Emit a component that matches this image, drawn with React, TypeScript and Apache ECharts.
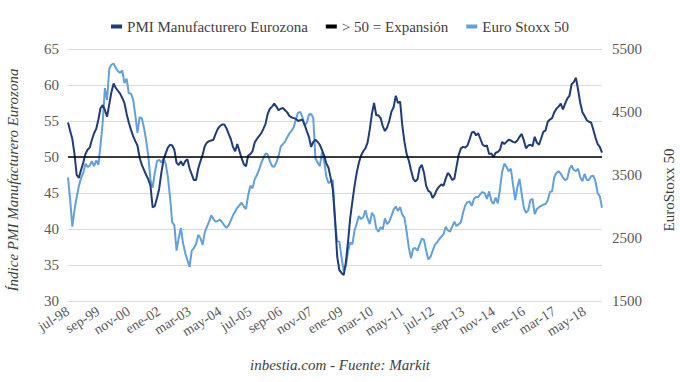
import React, { useEffect, useRef } from "react";
import * as echarts from "echarts";

// Monthly data, jul-98 .. ene-19
const START_YEAR = 1998;
const START_MONTH = 6; // 0-based: julio
const MONTH_ABBR = ["ene", "feb", "mar", "abr", "may", "jun", "jul", "ago", "sep", "oct", "nov", "dic"];

const pmiEurozona: number[] = [
  54.8, 53.6, 52.5, 50.4, 47.5, 47.1, 48.2, 49.2, 50.4, 51.0, 51.3, 52.4,
  53.3, 53.9, 55.2, 56.8, 57.2, 56.5, 55.6, 57.3, 59.0, 60.2, 59.6, 59.2,
  58.8, 58.2, 57.5, 56.0, 54.8, 53.8, 52.9, 52.2, 51.6, 49.9, 48.9, 48.2,
  47.5, 46.9, 46.0, 43.0, 43.2, 44.3, 45.6, 47.8, 49.6, 50.5, 51.3, 51.7,
  51.6, 51.0, 49.2, 48.9, 49.4, 48.8, 49.4, 49.7, 48.4, 47.6, 46.8, 46.8,
  48.4, 49.4, 50.3, 51.5, 52.0, 52.2, 52.3, 52.4, 53.2, 53.9, 54.3, 54.5,
  54.5, 54.0, 53.2, 52.5, 51.4, 50.8, 51.8, 50.8, 49.8, 49.0, 48.7, 50.2,
  50.4, 50.8, 52.0, 52.5, 52.9, 53.3, 53.9, 54.6, 56.0, 56.7, 57.0, 57.4,
  57.0, 56.5, 56.7, 56.8, 56.5, 56.2, 55.7, 55.5, 55.4, 55.3, 55.0, 55.1,
  55.2, 54.5, 53.6, 52.8, 51.4, 52.1, 52.4, 52.1, 51.7, 51.0, 50.2, 49.1,
  48.5, 47.1, 45.5, 41.5, 36.2, 34.3, 33.9, 33.6, 35.4, 38.2, 41.5, 43.8,
  46.0, 47.8, 49.2, 50.2, 50.8, 51.2, 52.0, 53.8, 56.0, 57.5, 55.8, 55.8,
  55.4, 54.3, 53.6, 54.1, 55.0, 56.3, 56.9, 58.5, 57.5, 57.7, 54.4, 52.1,
  50.4, 49.5, 48.2, 47.0, 46.6, 46.9, 48.5, 48.9, 47.8, 46.0, 45.3, 45.1,
  44.3, 44.8, 45.5, 45.9, 46.2, 46.0, 47.0, 47.8, 47.4, 46.8, 47.0, 48.7,
  50.3, 51.2, 51.4, 51.3, 51.6, 52.4, 53.4, 53.5, 53.0, 53.3, 52.5, 51.7,
  51.5, 51.6, 50.4, 50.5, 50.0, 50.6, 50.7, 51.0, 52.1, 51.8, 52.1, 52.4,
  52.3, 52.1, 52.0, 52.3, 52.8, 53.2, 52.3, 51.2, 51.6, 51.7, 51.5, 52.8,
  52.0, 51.7, 52.6, 53.5, 53.7, 54.9, 55.2, 55.4, 56.2, 56.7, 57.0, 57.4,
  56.6, 57.4, 58.1, 58.5, 60.1, 60.4, 61.0, 59.3, 57.5, 56.2, 55.7, 55.1,
  54.9, 54.8, 53.8, 52.7, 51.8, 51.4, 50.6,
];

const euroStoxx50: number[] = [
  3460, 3100, 2680, 2950, 3150, 3320, 3450, 3530, 3680, 3630, 3650, 3720,
  3640, 3730, 3660, 3980, 4340, 4880, 4690, 5190, 5250, 5270, 5200, 5150,
  5120, 5160, 4960, 5030, 4800, 4790, 4700, 4450, 4170, 4420, 4400, 4250,
  4050, 3800, 3420, 3300, 3540, 3720, 3740, 3700, 3760, 3680, 3470, 3150,
  2750, 2700, 2300, 2500, 2660, 2420, 2260, 2150, 2040, 2300, 2340, 2400,
  2550, 2500, 2390, 2590, 2680, 2760, 2860, 2800, 2760, 2770, 2790, 2750,
  2700, 2660, 2700, 2780, 2860, 2920, 2980, 3020, 3060, 3000, 2960, 3180,
  3330, 3290, 3430, 3500, 3580, 3690, 3770, 3840, 3830, 3720, 3640, 3630,
  3700, 3800, 3950, 3990, 4030, 4100, 4160, 4200, 4260, 4390, 4490, 4500,
  4420, 4280, 4330, 4460, 4470, 4400, 3760, 3700, 3640, 3860, 3720, 3480,
  3370, 3400, 3420, 2760, 2450, 2440, 2200, 1980, 2050, 2290, 2430, 2400,
  2620, 2730, 2850, 2800, 2830, 2940, 2810, 2720, 2900, 2850, 2650, 2600,
  2670, 2640, 2810, 2720, 2760, 2850, 2950, 3000, 2930, 2990, 2870, 2820,
  2600, 2350, 2180, 2330, 2340, 2300, 2400, 2490, 2470, 2300, 2160, 2200,
  2300, 2390, 2430, 2480, 2520, 2560, 2680, 2620, 2600, 2680, 2760, 2690,
  2720, 2750, 2900, 3020, 3070, 3080, 3010, 3120, 3150, 3150, 3200, 3230,
  3210, 3120, 3240, 3090, 3040, 3140, 3050, 3280, 3550, 3680, 3630, 3560,
  3600, 3350, 3100, 3300, 3440, 3200, 2980, 2900, 2940, 3100, 3120, 2880,
  2960, 2990, 3010, 3030, 3040, 3100, 3230, 3240, 3470, 3530, 3560, 3520,
  3460, 3420, 3440, 3590, 3650, 3580, 3560, 3600, 3460, 3400, 3520, 3420,
  3420, 3480, 3490, 3400, 3210, 3160, 2980,
];

const expansionLevel = 50;

const leftTicks = { min: 30, max: 65, interval: 5 };
const rightTicks = { min: 1500, max: 5500, interval: 1000 };

const months: string[] = pmiEurozona.map((_, i) => {
  const m = (START_MONTH + i) % 12;
  const y = START_YEAR + Math.floor((START_MONTH + i) / 12);
  return `${MONTH_ABBR[m]}-${String(y % 100).padStart(2, "0")}`;
});
const expansionLine = months.map(() => expansionLevel);

const FONT = "Liberation Serif";
const DARK = "#1f3c78";
const LIGHT = "#62a0db";

export default function App() {
  const ref = useRef<HTMLDivElement>(null);
  useEffect(() => {
    if (!ref.current) return;
    const chart = echarts.init(ref.current, undefined, { renderer: "svg" });
    chart.setOption({
      animation: false,
      backgroundColor: "#ffffff",
      textStyle: { fontFamily: FONT },
      legend: {
        top: 14,
        left: "center",
        itemWidth: 11,
        itemHeight: 4,
        itemGap: 18,
        icon: "rect",
        textStyle: { fontFamily: FONT, fontSize: 15, color: "#404040" },
        data: ["PMI Manufacturero Eurozona", "> 50 = Expansión", "Euro Stoxx 50"],
      },
      grid: { left: 68, right: 78, top: 49, bottom: 81 },
      graphic: [
        {
          type: "text",
          left: "center",
          top: 357,
          style: {
            text: "inbestia.com - Fuente: Markit",
            fontFamily: FONT,
            fontSize: 15,
            fontStyle: "italic",
            fill: "#404040",
          },
        },
        {
          type: "text",
          x: 13,
          y: 180,
          rotation: Math.PI / 2,
          style: {
            text: "Índice PMI Manufacturero Eurozona",
            fontFamily: FONT,
            fontSize: 15,
            fontStyle: "italic",
            fill: "#404040",
            align: "center",
            verticalAlign: "middle",
          },
        },
        {
          type: "text",
          x: 669,
          y: 190,
          rotation: Math.PI / 2,
          style: {
            text: "EuroStoxx 50",
            fontFamily: FONT,
            fontSize: 15,
            fill: "#404040",
            align: "center",
            verticalAlign: "middle",
          },
        },
      ],
      xAxis: {
        type: "category",
        data: months,
        boundaryGap: false,
        axisLine: { show: false },
        axisTick: { show: false },
        axisLabel: {
          interval: 13,
          rotate: 32,
          margin: 9,
          fontFamily: FONT,
          fontSize: 14,
          color: "#595959",
        },
        splitLine: { show: false },
      },
      yAxis: [
        {
          type: "value",
          min: leftTicks.min,
          max: leftTicks.max,
          interval: leftTicks.interval,
          axisLine: { show: false },
          axisTick: { show: false },
          axisLabel: { fontFamily: FONT, fontSize: 15, color: "#595959", margin: 9 },
          splitLine: { lineStyle: { color: "#d9d9d9", width: 1 } },
        },
        {
          type: "value",
          min: rightTicks.min,
          max: rightTicks.max,
          interval: rightTicks.interval,
          axisLine: { show: false },
          axisTick: { show: false },
          axisLabel: {
            fontFamily: FONT,
            fontSize: 15,
            color: "#595959",
            margin: 10,
            formatter: (v: number) => String(v),
          },
          splitLine: { show: false },
        },
      ],
      series: [
        {
          name: "PMI Manufacturero Eurozona",
          type: "line",
          yAxisIndex: 0,
          data: pmiEurozona,
          symbol: "none",
          color: DARK,
          lineStyle: { width: 2, color: DARK },
          z: 3,
        },
        {
          name: "> 50 = Expansión",
          type: "line",
          yAxisIndex: 0,
          data: expansionLine,
          symbol: "none",
          color: "#000000",
          lineStyle: { width: 1.5, color: "#000000" },
          z: 4,
        },
        {
          name: "Euro Stoxx 50",
          type: "line",
          yAxisIndex: 1,
          data: euroStoxx50,
          symbol: "none",
          color: LIGHT,
          lineStyle: { width: 2, color: LIGHT },
          z: 2,
        },
      ],
    });
    return () => chart.dispose();
  }, []);
  return <div ref={ref} style={{ width: 680, height: 382, position: "absolute", left: 0, top: 0 }} />;
}
